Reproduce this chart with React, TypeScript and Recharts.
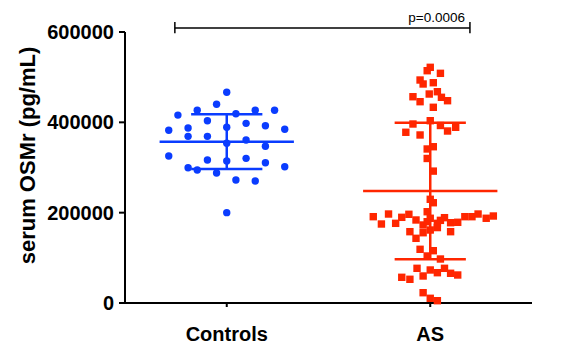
import React from 'react';
import { ScatterChart, Scatter, XAxis, YAxis, ReferenceLine, Label } from 'recharts';

const categories = ['Controls', 'AS'];
const categoryPositions = [1, 3];

const controlsValues = [
  466500, 440000, 416000, 426600, 419000, 426600, 426600, 403600, 397800, 392500,
  382400, 387500, 389000, 384600, 369000, 369000, 361000, 353600, 347000, 325500,
  316600, 314400, 320300, 310600, 301800, 299600, 294500, 287800, 272300, 270100,
  200000,
];
const controlsJitter = [
  0, -0.1, -0.48, -0.29, 0.09, 0.28, 0.47, -0.19, 0.19, 0.38,
  -0.57, -0.38, 0, 0.57, -0.38, -0.19, 0.19, 0, 0.38, -0.57,
  -0.19, 0, 0.19, 0.38, 0.57, -0.38, -0.29, -0.1, 0.09, 0.28,
  0,
];

const asValues = [
  521800, 514300, 508500, 493700, 484900, 487700, 462700, 467800, 456700, 455400,
  447900, 445700, 433300, 403600, 396300, 393000, 389000, 380800, 378000, 372000,
  346000, 341000, 320000, 292000, 229600, 222000, 202100, 191100, 174900, 197000,
  176400, 189700, 196400, 183800, 172700, 187600, 176400, 188900, 177800, 178700,
  191100, 191100, 197000, 187600, 192600, 180000, 183000, 157900, 143200, 155600,
  161600, 157900, 167000, 118900, 115800, 104100, 97400, 76800, 73100, 76800,
  59800, 67100, 65800, 62000, 56900, 52500, 22800, 10400, 5100,
];
const asJitter = [
  0, -0.03, 0.1, -0.1, -0.07, 0.03, -0.01, 0.07, -0.17, 0.11,
  0.17, -0.1, 0.03, 0, -0.17, 0.1, 0.25, 0.17, -0.24, -0.1,
  0.03, -0.03, -0.03, 0.03, 0, 0.03, -0.03, -0.56, -0.48, -0.41,
  -0.34, -0.28, -0.21, -0.14, -0.07, 0, 0.07, 0.14, 0.2, 0.27,
  0.34, 0.41, 0.47, 0.55, 0.62, -0.03, 0.1, -0.2, -0.14, -0.07,
  0, 0.2, 0.07, -0.1, 0.03, -0.03, 0.1, -0.13, 0, 0.14,
  -0.07, 0.07, 0.2, 0.27, -0.28, -0.2, -0.07, 0, 0.07,
];

const groupMeans = [357000, 248000];
const groupSdLow = [296700, 96700];
const groupSdHigh = [417800, 399200];

const yTicks = [0, 200000, 400000, 600000];
const pValueLabel = 'p=0.0006';
const yAxisTitle = 'serum OSMr (pg/mL)';

const BLUE = '#0a3cff';
const RED = '#ff2600';
const FONT = '"Liberation Sans", Arial, Helvetica, sans-serif';

const controlsData = controlsValues.map((v, i) => ({ x: categoryPositions[0] + controlsJitter[i], y: v }));
const asData = asValues.map((v, i) => ({ x: categoryPositions[1] + asJitter[i], y: v }));
const groupColors = [BLUE, RED];

const CircleShape = (p: any) => <circle cx={p.cx} cy={p.cy} r={3.7} fill={BLUE} />;
const SquareShape = (p: any) => <rect x={p.cx - 3.7} y={p.cy - 3.7} width={7.4} height={7.4} fill={RED} />;

export default function App() {
  const MEAN_HALF = 0.66;
  const SD_HALF = 0.35;
  const bracketLeft = 0.49;
  const bracketRight = 3.39;
  const bracketY = 609000;
  const bracketTop = 622000;
  const bracketBottom = 597000;

  return (
    <div style={{ position: 'absolute', left: 0, top: 0, width: 579, height: 360, background: '#fff' }}>
      <ScatterChart width={579} height={360} margin={{ top: 32, right: 47, left: 0, bottom: 0 }}>
        <XAxis
          type="number"
          dataKey="x"
          domain={[0, 4]}
          ticks={categoryPositions}
          tickFormatter={(v: number) => categories[categoryPositions.indexOf(v)] ?? ''}
          height={57}
          tickSize={4}
          tickMargin={20}
          axisLine={{ stroke: '#000', strokeWidth: 2 }}
          tickLine={{ stroke: '#000', strokeWidth: 2 }}
          tick={{ fill: '#000', fontSize: 20, fontWeight: 'bold', fontFamily: FONT }}
          interval={0}
        />
        <YAxis
          type="number"
          dataKey="y"
          domain={[0, 600000]}
          ticks={yTicks}
          width={125}
          tickSize={6}
          tickMargin={5}
          axisLine={{ stroke: '#000', strokeWidth: 2 }}
          tickLine={{ stroke: '#000', strokeWidth: 2 }}
          tick={{ fill: '#000', fontSize: 20, fontWeight: 'bold', fontFamily: FONT }}
          interval={0}
        >
          <Label
            content={(props: any) => {
              const vb = props.viewBox || { x: 0, y: 32, width: 125, height: 271 };
              const cx = vb.x + 27;
              const cy = vb.y + vb.height / 2 - 12;
              return (
                <text
                  x={cx}
                  y={cy}
                  transform={`rotate(-90, ${cx}, ${cy})`}
                  textAnchor="middle"
                  dominantBaseline="central"
                  fontSize={22}
                  fontWeight="bold"
                  fontFamily={FONT}
                  fill="#000"
                >
                  {yAxisTitle}
                </text>
              );
            }}
          />
        </YAxis>
        <Scatter data={controlsData} shape={CircleShape} isAnimationActive={false} />
        <Scatter data={asData} shape={SquareShape} isAnimationActive={false} />
        {categoryPositions.map((c, i) => (
          <ReferenceLine
            key={`mean-${i}`}
            segment={[{ x: c - MEAN_HALF, y: groupMeans[i] }, { x: c + MEAN_HALF, y: groupMeans[i] }]}
            stroke={groupColors[i]}
            strokeWidth={2.5}
            ifOverflow="visible"
          />
        ))}
        {categoryPositions.map((c, i) => (
          <ReferenceLine
            key={`sdv-${i}`}
            segment={[{ x: c, y: groupSdLow[i] }, { x: c, y: groupSdHigh[i] }]}
            stroke={groupColors[i]}
            strokeWidth={2.5}
            ifOverflow="visible"
          />
        ))}
        {categoryPositions.map((c, i) => (
          <ReferenceLine
            key={`sdh-${i}`}
            segment={[{ x: c - SD_HALF, y: groupSdHigh[i] }, { x: c + SD_HALF, y: groupSdHigh[i] }]}
            stroke={groupColors[i]}
            strokeWidth={2.5}
            ifOverflow="visible"
          />
        ))}
        {categoryPositions.map((c, i) => (
          <ReferenceLine
            key={`sdl-${i}`}
            segment={[{ x: c - SD_HALF, y: groupSdLow[i] }, { x: c + SD_HALF, y: groupSdLow[i] }]}
            stroke={groupColors[i]}
            strokeWidth={2.5}
            ifOverflow="visible"
          />
        ))}
        <ReferenceLine
          segment={[{ x: bracketLeft, y: bracketY }, { x: bracketRight, y: bracketY }]}
          stroke="#000"
          strokeWidth={1.5}
          ifOverflow="visible"
          label={(props: any) => {
            const vb = props.viewBox || { x: 0, y: 0, width: 0 };
            return (
              <text
                x={vb.x + vb.width - 5}
                y={vb.y - 6}
                textAnchor="end"
                fontSize={13.5}
                fontFamily={FONT}
                fill="#000"
              >
                {pValueLabel}
              </text>
            );
          }}
        />
        <ReferenceLine
          segment={[{ x: bracketLeft, y: bracketBottom }, { x: bracketLeft, y: bracketTop }]}
          stroke="#000"
          strokeWidth={1.5}
          ifOverflow="visible"
        />
        <ReferenceLine
          segment={[{ x: bracketRight, y: bracketBottom }, { x: bracketRight, y: bracketTop }]}
          stroke="#000"
          strokeWidth={1.5}
          ifOverflow="visible"
        />
      </ScatterChart>
    </div>
  );
}
